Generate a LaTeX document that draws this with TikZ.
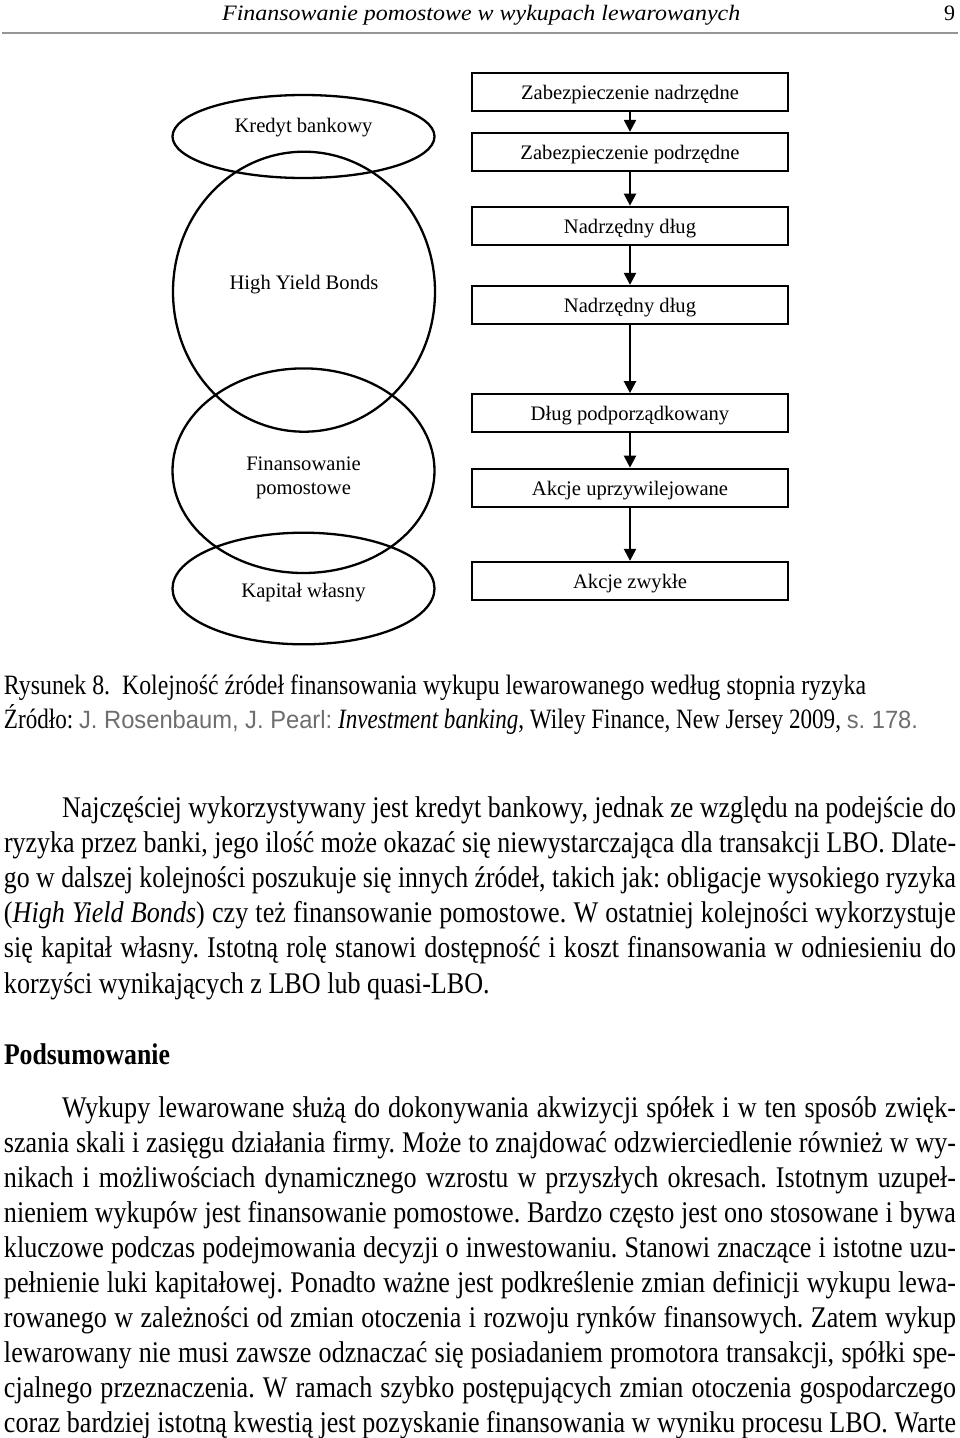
\documentclass[tikz,border=0pt]{standalone}
\usepackage{fontspec}
\usepackage{graphicx}
\usetikzlibrary{arrows.meta,shapes.geometric}
\setmainfont{Liberation Serif}
\newfontfamily\bodyfont{Liberation Serif}[FakeStretch=0.87]
\newfontfamily\diagfont{Liberation Serif}
\newfontfamily\grayfont{Liberation Sans}
\definecolor{rulegray}{RGB}{150,150,150}
\definecolor{srcgray}{RGB}{110,110,110}
\newsavebox\lbox
\newcommand\jl[2]{\sbox\lbox{#2}\ifdim\wd\lbox>#1\relax\resizebox{#1}{\height}{\usebox\lbox}\else\hbox to #1{#2}\fi}
\newcommand\fw[2]{\resizebox{#1}{\height}{#2}}
\frenchspacing
\begin{document}
\begin{tikzpicture}[x=1pt,y=-1pt,
  tl/.style={inner sep=0pt, outer sep=0pt, anchor=base west, font=\bodyfont\fontsize{30}{35}\selectfont},
  box/.style={draw, line width=2.3pt, minimum width=316pt, minimum height=38pt, inner sep=0pt, text height=15pt, text depth=0pt, font=\diagfont\fontsize{20.6}{24}\selectfont},
  ell/.style={draw, ellipse, line width=2.3pt, inner sep=0pt},
  dt/.style={inner sep=0pt, anchor=base, font=\diagfont\fontsize{20.6}{24}\selectfont},
  arr/.style={line width=2.3pt, -{Triangle[length=12pt,width=12pt]}}]
\useasboundingbox[fill=white] (0,0) rectangle (960,1438);
% header
\node[inner sep=0pt, anchor=base west, font=\itshape\fontsize{22}{26}\selectfont] (hdr) at (222,20) {\fw{518pt}{Finansowanie pomostowe w wykupach lewarowanych}};
\node[inner sep=0pt, anchor=base west, font=\fontsize{22}{26}\selectfont] (pg) at (944,20) {9};
\draw[rulegray, line width=2pt] (2,32.5) -- (958,32.5);
% ellipses
\node[ell, minimum width=262pt, minimum height=83pt] (e1) at (303.5,136.5) {};
\node[ell, minimum width=262pt, minimum height=280pt] (e2) at (304,291.7) {};
\node[ell, minimum width=262pt, minimum height=204.6pt] (e3) at (303.5,470.7) {};
\node[ell, minimum width=262pt, minimum height=111.6pt] (e4) at (303.5,588.5) {};
\node[dt] (t1) at (303.5,132.3) {Kredyt bankowy};
\node[dt] (t2) at (304,289.3) {High Yield Bonds};
\node[dt] (t3a) at (303.5,470) {Finansowanie};
\node[dt] (t3b) at (303.5,494) {pomostowe};
\node[dt] (t4) at (303.5,597.3) {Kapitał własny};
% boxes
\node[box] (b1) at (630,91.7) {Zabezpieczenie nadrzędne};
\node[box] (b2) at (630,152) {Zabezpieczenie podrzędne};
\node[box] (b3) at (630,225.8) {Nadrzędny dług};
\node[box] (b4) at (630,305) {Nadrzędny dług};
\node[box] (b5) at (630,413.3) {Dług podporządkowany};
\node[box] (b6) at (630,487.8) {Akcje uprzywilejowane};
\node[box] (b7) at (630,581) {Akcje zwykłe};
\draw[arr] (b1) -- (b2);
\draw[arr] (b2) -- (b3);
\draw[arr] (b3) -- (b4);
\draw[arr] (b4) -- (b5);
\draw[arr] (b5) -- (b6);
\draw[arr] (b6) -- (b7);
% caption
\node[tl, font=\bodyfont\fontsize{28}{32}\selectfont] (cap1) at (4,694) {\fw{862pt}{Rysunek 8.\ \ Kolejność źródeł finansowania wykupu lewarowanego według stopnia ryzyka}};
\node[tl, font=\bodyfont\fontsize{28}{32}\selectfont] (cap2) at (4,728) {\fw{914pt}{Źródło: {\grayfont\fontsize{25}{30}\selectfont\color{srcgray}J. Rosenbaum, J. Pearl:} \textit{Investment banking}, Wiley Finance, New Jersey 2009, {\grayfont\fontsize{25}{30}\selectfont\color{srcgray}s. 178.}}};
% paragraph 1
\node[tl] (p1l1) at (62,817) {\jl{894pt}{Najczęściej wykorzystywany jest kredyt bankowy, jednak ze względu na podejście do}};
\node[tl] (p1l2) at (4,852.2) {\jl{952pt}{ryzyka przez banki, jego ilość może okazać się niewystarczająca dla transakcji LBO. Dlate-}};
\node[tl] (p1l3) at (4,887.4) {\jl{952pt}{go w dalszej kolejności poszukuje się innych źródeł, takich jak: obligacje wysokiego ryzyka}};
\node[tl] (p1l4) at (4,922.6) {\jl{952pt}{(\textit{High Yield Bonds}) czy też finansowanie pomostowe. W ostatniej kolejności wykorzystuje}};
\node[tl] (p1l5) at (4,957.8) {\jl{952pt}{się kapitał własny. Istotną rolę stanowi dostępność i koszt finansowania w odniesieniu do}};
\node[tl] (p1l6) at (4,993) {korzyści wynikających z LBO lub quasi-LBO.};
% heading
\node[tl, font=\bodyfont\bfseries\fontsize{30}{35}\selectfont] (hd) at (4,1064) {\fw{166pt}{Podsumowanie}};
% paragraph 2
\node[tl] (p2l1) at (62,1117) {\jl{894pt}{Wykupy lewarowane służą do dokonywania akwizycji spółek i w ten sposób zwięk-}};
\node[tl] (p2l2) at (4,1152) {\jl{952pt}{szania skali i zasięgu działania firmy. Może to znajdować odzwierciedlenie również w wy-}};
\node[tl] (p2l3) at (4,1187) {\jl{952pt}{nikach i możliwościach dynamicznego wzrostu w przyszłych okresach. Istotnym uzupeł-}};
\node[tl] (p2l4) at (4,1222) {\jl{952pt}{nieniem wykupów jest finansowanie pomostowe. Bardzo często jest ono stosowane i bywa}};
\node[tl] (p2l5) at (4,1257) {\jl{952pt}{kluczowe podczas podejmowania decyzji o inwestowaniu. Stanowi znaczące i istotne uzu-}};
\node[tl] (p2l6) at (4,1292) {\jl{952pt}{pełnienie luki kapitałowej. Ponadto ważne jest podkreślenie zmian definicji wykupu lewa-}};
\node[tl] (p2l7) at (4,1327) {\jl{952pt}{rowanego w zależności od zmian otoczenia i rozwoju rynków finansowych. Zatem wykup}};
\node[tl] (p2l8) at (4,1362) {\jl{952pt}{lewarowany nie musi zawsze odznaczać się posiadaniem promotora transakcji, spółki spe-}};
\node[tl] (p2l9) at (4,1397) {\jl{952pt}{cjalnego przeznaczenia. W ramach szybko postępujących zmian otoczenia gospodarczego}};
\node[tl] (p2l10) at (4,1432) {\jl{952pt}{coraz bardziej istotną kwestią jest pozyskanie finansowania w wyniku procesu LBO. Warte}};
\end{tikzpicture}
\end{document}
